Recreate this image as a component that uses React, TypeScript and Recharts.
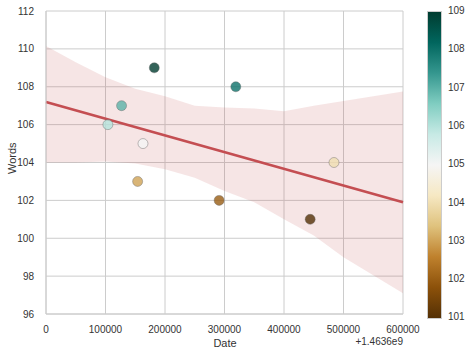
import React from 'react';
import { ComposedChart, Area, Line, Scatter, XAxis, YAxis, CartesianGrid, Cell } from 'recharts';

// observations (date offset from 1.4636e9, words)
const dates = [104000, 127000, 154000, 182000, 163000, 319000, 291000, 444000, 484000];
const words = [106, 107, 103, 109, 105, 108, 102, 101, 104];

// regression band
const bandX = [0, 50000, 100000, 150000, 200000, 250000, 300000, 350000, 400000, 450000, 500000, 550000, 600000];
const bandLow = [104.0, 104.0, 104.05, 103.95, 103.65, 103.2, 102.5, 101.9, 101.0, 100.15, 99.0, 98.05, 97.1];
const bandHigh = [110.15, 109.3, 108.5, 107.9, 107.5, 107.0, 106.9, 106.85, 106.7, 107.0, 107.25, 107.5, 107.75];
const fitX = [0, 600000];
const fitY = [107.2, 101.9];

const xTicks = [0, 100000, 200000, 300000, 400000, 500000, 600000];
const yTicks = [96, 98, 100, 102, 104, 106, 108, 110, 112];
const cbTicks = [109, 108, 107, 106, 105, 104, 103, 102, 101];

// BrBG colormap stops
const brbg = ['#543005', '#8c510a', '#bf812d', '#dfc27d', '#f6e8c3', '#f5f5f5', '#c7eae5', '#80cdc1', '#35978f', '#01665e', '#003c30'];

const hex = (h: string) => [1, 3, 5].map((i) => parseInt(h.slice(i, i + 2), 16));
const colorFor = (v: number) => {
  const t = Math.min(1, Math.max(0, (v - 101) / 8)) * (brbg.length - 1);
  const i = Math.min(brbg.length - 2, Math.floor(t));
  const f = t - i;
  const a = hex(brbg[i]);
  const b = hex(brbg[i + 1]);
  const c = a.map((x, k) => Math.round(x + (b[k] - x) * f));
  return `rgb(${c[0]},${c[1]},${c[2]})`;
};

const lineData = bandX.map((x, i) => {
  const j = fitX.indexOf(x);
  return { x, range: [bandLow[i], bandHigh[i]], fit: j >= 0 ? fitY[j] : null };
});
const points = dates.map((x, i) => ({ x, y: words[i] }));

const font = '"Liberation Sans", Arial, sans-serif';
const tickStyle = { fill: '#333', fontSize: 10, fontFamily: font };

const Dot = (props: any) => {
  const { cx, cy, fill } = props;
  return <circle cx={cx} cy={cy} r={5} fill={fill} fillOpacity={0.8} stroke="#666" strokeOpacity={0.7} strokeWidth={0.6} />;
};

export default function App() {
  return (
    <div style={{ position: 'fixed', left: 0, top: 0, width: 471, height: 356, background: '#fff', fontFamily: font }}>
      <ComposedChart width={471} height={356} data={lineData} margin={{ top: 11, right: 68, bottom: 12, left: 6 }}>
        <CartesianGrid stroke="#cccccc" strokeWidth={1} />
        <XAxis
          type="number"
          dataKey="x"
          domain={[0, 600000]}
          ticks={xTicks}
          tickLine={false}
          axisLine={{ stroke: '#cccccc' }}
          tick={tickStyle}
          tickMargin={6}
          height={30}
        />
        <YAxis
          type="number"
          domain={[96, 112]}
          ticks={yTicks}
          tickLine={false}
          axisLine={{ stroke: '#cccccc' }}
          tick={tickStyle}
          tickMargin={6}
          width={40}
        />
        <Area dataKey="range" type="linear" stroke="none" fill="#c44e52" fillOpacity={0.15} isAnimationActive={false} />
        <Line dataKey="fit" type="linear" stroke="#c44e52" strokeWidth={2.6} dot={false} connectNulls isAnimationActive={false} />
        <Scatter data={points} dataKey="y" shape={Dot} isAnimationActive={false}>
          {points.map((p, i) => (
            <Cell key={i} fill={colorFor(p.y)} />
          ))}
        </Scatter>
      </ComposedChart>

      <div style={{ position: 'absolute', left: 0, top: 162, width: 24, textAlign: 'center', fontSize: 11, color: '#333', transform: 'translate(0,-50%) rotate(-90deg)', lineHeight: '12px' }}>
        <span style={{ display: 'inline-block', transform: 'translateX(-0px)' }}>Words</span>
      </div>
      <div style={{ position: 'absolute', left: 200, width: 50, top: 337, textAlign: 'center', fontSize: 11, color: '#333' }}>Date</div>
      <div style={{ position: 'absolute', right: 68, top: 336, fontSize: 10, color: '#333' }}>+1.4636e9</div>

      <div
        style={{
          position: 'absolute',
          left: 427,
          top: 11,
          width: 13,
          height: 306,
          border: '1px solid #cccccc',
          background: `linear-gradient(to top, ${brbg.join(', ')})`,
        }}
      />
      {cbTicks.map((t, i) => (
        <div key={t} style={{ position: 'absolute', left: 448, top: 11 + i * 38.3 - 6, fontSize: 10, color: '#333', lineHeight: '12px' }}>
          {t}
        </div>
      ))}
    </div>
  );
}
